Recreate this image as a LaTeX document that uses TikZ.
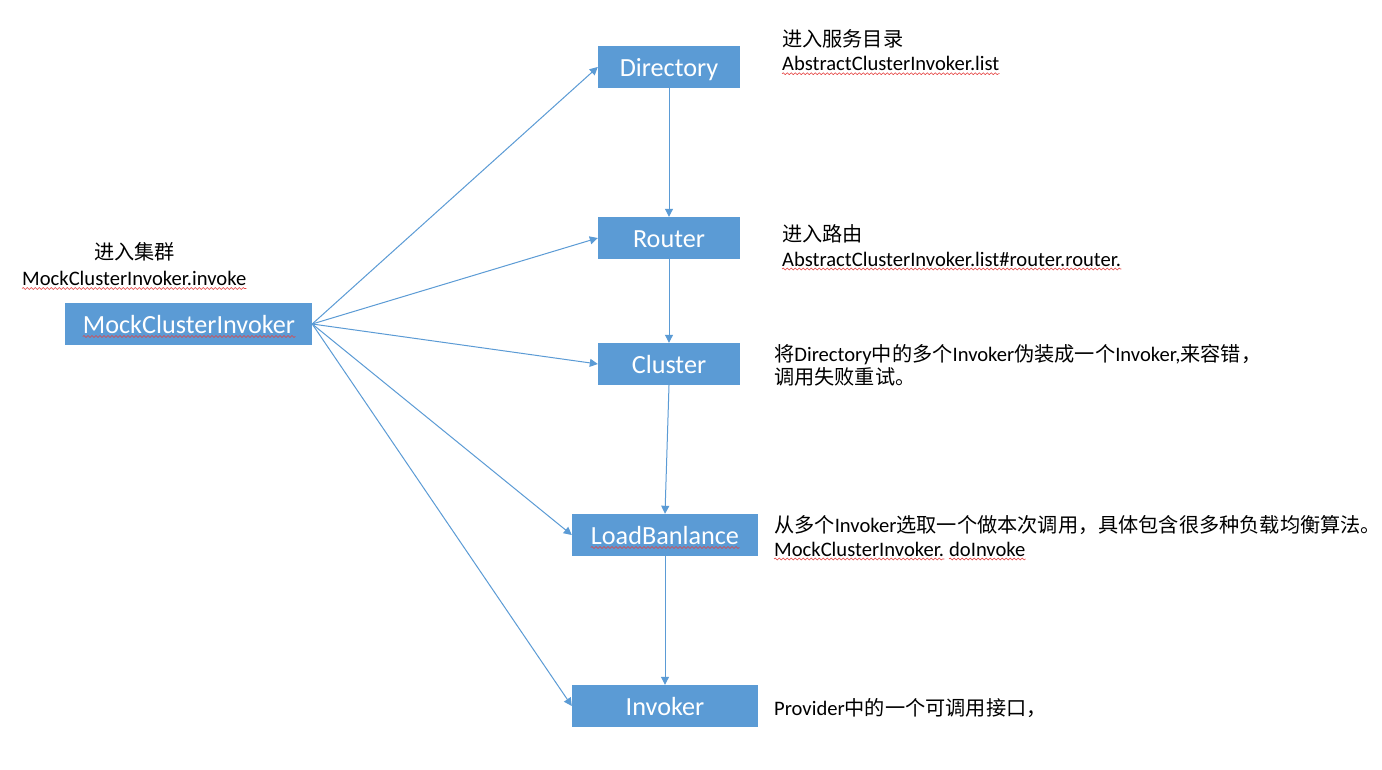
\documentclass[tikz,border=0pt]{standalone}
\usepackage{fontspec}
\setmainfont{Carlito}
\newfontfamily\cjk[Scale=0.98]{Noto Sans CJK SC}
\usetikzlibrary{arrows.meta,decorations.pathmorphing}
\definecolor{boxblue}{HTML}{5B9BD5}
\definecolor{wavered}{HTML}{E5403F}
\begin{document}
\begin{tikzpicture}[x=1pt,y=-1pt,
  box/.style={draw=none, fill=boxblue, minimum height=42pt, inner sep=0pt},
  boxtext/.style={text=white, inner sep=0pt, anchor=base, font=\fontsize{26.2}{31}\selectfont},
  lbl/.style={anchor=base west, inner sep=0pt, font=\fontsize{20.6}{24}\selectfont},
  conn/.style={draw=boxblue, line width=1pt, -{Triangle[length=8pt,width=8pt]}},
  wave/.style={draw=wavered, line width=0.6pt, decorate, decoration={snake, amplitude=0.9pt, segment length=4pt}}]
\fill[white] (0,0) rectangle (1382,770);
\useasboundingbox (0,0) rectangle (1382,770);

% boxes
\node[box, minimum width=247pt] (mock) at (188.5,324) {};
\node[box, minimum width=142pt] (dir) at (669,67) {};
\node[box, minimum width=142pt] (rout) at (669,238) {};
\node[box, minimum width=142pt] (clu) at (669,364) {};
\node[box, minimum width=186pt] (lb) at (665,535) {};
\node[box, minimum width=186pt] (inv) at (665,706) {};

% box texts
\node[boxtext] (mockt) at (189,333.5) {MockClusterInvoker};
\node[boxtext] (dirt) at (669,76.5) {Directory};
\node[boxtext] (routt) at (669,247.5) {Router};
\node[boxtext] (clut) at (669,373.5) {Cluster};
\node[boxtext] (lbt) at (665,544.5) {LoadBanlance};
\node[boxtext] (invt) at (665,715.5) {Invoker};

% labels
\node[lbl] (l1a) at (94,260) {\cjk 进入集群};
\node[lbl] (l1b) at (22,285.5) {MockClusterInvoker.invoke};
\node[lbl] (l2a) at (782,47) {\cjk 进入服务目录};
\node[lbl] (l2b) at (782,70.7) {AbstractClusterInvoker.list};
\node[lbl] (l3a) at (782,242) {\cjk 进入路由};
\node[lbl] (l3b) at (782,266) {AbstractClusterInvoker.list\#router.router.};
\node[lbl] (l4a) at (774,361) {{\cjk 将}Directory{\cjk 中的多个}Invoker{\cjk 伪装成一个}Invoker,{\cjk 来容错，}};
\node[lbl] (l4b) at (774,384) {\cjk 调用失败重试。};
\node[lbl] (l5a) at (774,532) {{\cjk 从多个}Invoker{\cjk 选取一个做本次调用，具体包含很多种负载均衡算法。}};
\node[lbl] (l5b) at (774,556) {MockClusterInvoker.};
\node[lbl] (l5c) at ([xshift=4.6pt]l5b.base east) {doInvoke};
\node[lbl] (l6) at (774,715) {Provider{\cjk 中的一个可调用接口，}};

% spell-check underlines
\foreach \n in {l1b,l2b,l3b,l5b,l5c,mockt,lbt}
  \draw[wave] ([yshift=-3pt]\n.base west) -- ([yshift=-3pt]\n.base east);

% connectors
\draw[conn] (mock.east) -- (dir.west);
\draw[conn] (mock.east) -- (rout.west);
\draw[conn] (mock.east) -- (clu.west);
\draw[conn] (mock.east) -- (lb.west);
\draw[conn] (mock.east) -- (inv.west);
\draw[conn] (dir.south) -- (rout.north);
\draw[conn] (rout.south) -- (clu.north);
\draw[conn] (clu.south) -- (lb.north);
\draw[conn] (lb.south) -- (inv.north);
\end{tikzpicture}
\end{document}
